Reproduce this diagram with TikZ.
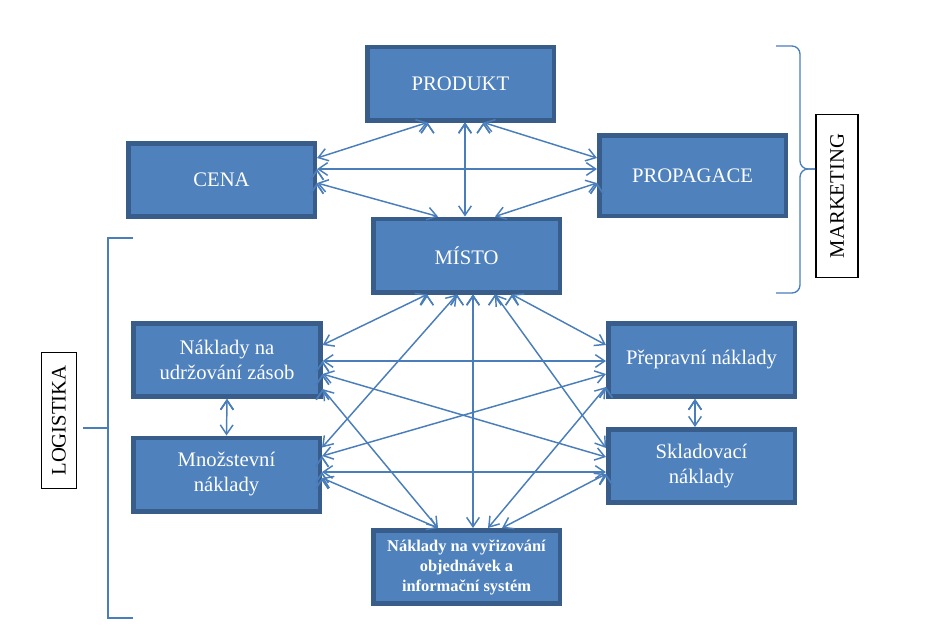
\documentclass[tikz,border=0pt]{standalone}
\usepackage{fontspec}
\setmainfont{Liberation Serif}
\usetikzlibrary{calc,arrows.meta}

\definecolor{boxfill}{RGB}{79,129,189}
\definecolor{boxline}{RGB}{56,93,138}
\definecolor{linkline}{RGB}{74,126,187}

\tikzset{
  box/.style={draw=boxline, fill=boxfill, line width=3.4pt, minimum width=139.9pt,
    minimum height=55.1pt, inner sep=2pt, text=white, align=center,
    font=\fontsize{15.5}{18.75}\selectfont},
  tag/.style={draw=black, fill=white, line width=0.8pt, rotate=90, inner sep=2pt,
    minimum width=122pt, minimum height=31.5pt, font=\fontsize{15.5}{18}\selectfont},
  link/.style={<->, draw=linkline, line width=1.1pt, >={Straight Barb[length=7pt,width=9.5pt]}},
  brace/.style={draw=linkline, line width=1pt}
}

\begin{document}
\begin{tikzpicture}[x=0.75pt,y=-0.75pt]
    \useasboundingbox (0,0) rectangle (927,626);
    % marketing mix
    \node[box] (prod) at (460.5,83.5) {PRODUKT};
    \node[box] (cena) at (221.5,180) {CENA};
    \node[box,minimum height=60.4pt] (prop) at (692.5,175.5) {PROPAGACE};
    \node[box] (misto) at (466.5,255.5) {MÍSTO};
    % logisticke naklady
    \node[box] (udrz) at (227,360) {Náklady na\\udržování zásob};
    \node[box] (mnoz) at (226.5,474.5) {Množstevní\\náklady};
    \node[box] (prepr) at (701.5,360) {Přepravní náklady};
    \node[box] (sklad) at (701.5,466) {Skladovací\\náklady};
    \node[box,font=\bfseries\fontsize{12.3}{15}\selectfont] (vyriz) at (466.5,567) {Náklady na vyřizování\\objednávek a\\informační systém};
    \node[tag] (mark) at (837,196) {MARKETING};
    \node[tag,minimum width=102pt,minimum height=26.2pt] (logi) at (59,420.5) {LOGISTIKA};

    \path[link] ($(prod.south)+(-33,0)$) edge ($(cena.east)+(0,-22)$);
    \path[link] ($(prod.south)+(4.5,0)$) edge ($(misto.north)+(-1.5,0)$);
    \path[link] ($(prod.south)+(23,0)$) edge ($(prop.west)+(0,-17.5)$);
    \path[link] ($(cena.east)+(0,-11)$) edge ($(prop.west)+(0,-6.5)$);
    \path[link] ($(cena.east)+(0,3)$) edge ($(misto.north)+(-28.5,0)$);
    \path[link] ($(prop.west)+(0,7.5)$) edge ($(misto.north)+(28.5,0)$);

    \path[link] ($(misto.south)+(-39.5,0)$) edge ($(udrz.east)+(0,-15)$);
    \path[link] ($(misto.south)+(-9.5,0)$) edge ($(mnoz.east)+(0,-27)$);
    \path[link] ($(misto.south)+(6.5,0)$) edge ($(vyriz.north)+(6.5,0)$);
    \path[link] ($(misto.south)+(28.5,0)$) edge ($(sklad.west)+(0,-18)$);
    \path[link] ($(misto.south)+(45.5,0)$) edge ($(prepr.west)+(0,-15)$);
    \path[link] ($(udrz.east)+(0,1)$) edge ($(prepr.west)+(0,1)$);
    \path[link] ($(udrz.east)+(0,14)$) edge ($(sklad.west)+(0,-9)$);
    \path[link] ($(udrz.east)+(0,29)$) edge ($(vyriz.north)+(-28.5,0)$);
    \path[link] ($(mnoz.east)+(0,-18.5)$) edge ($(prepr.west)+(0,14)$);
    \path[link] ($(mnoz.east)+(0,-2.5)$) edge ($(sklad.west)+(0,6)$);
    \path[link] ($(mnoz.east)+(0,3.5)$) edge ($(vyriz.north)+(-28.5,0)$);
    \path[link] ($(prepr.west)+(0,27)$) edge ($(vyriz.north)+(21.5,0)$);
    \path[link] ($(sklad.west)+(0,8)$) edge ($(vyriz.north)+(35.5,0)$);
    \path[link] (udrz.south) edge (mnoz.north);
    \path[link] ($(prepr.south)+(-6.5,0)$) edge ($(sklad.north)+(-6.5,0)$);

    % zavorky
    \coordinate (mtip) at (815,169);
    \coordinate (ltip) at (83,428);
    \draw[brace,rounded corners=6pt] (776,46) -| (800,169) -- (mtip);
    \draw[brace,rounded corners=6pt] (mtip) -| (800,293) -- (776,293);
    \draw[brace] (133,238) -- (108,238) -- (108,618) -- (133,618);
    \draw[brace] (ltip) -- (108,428);
\end{tikzpicture}
\end{document}
